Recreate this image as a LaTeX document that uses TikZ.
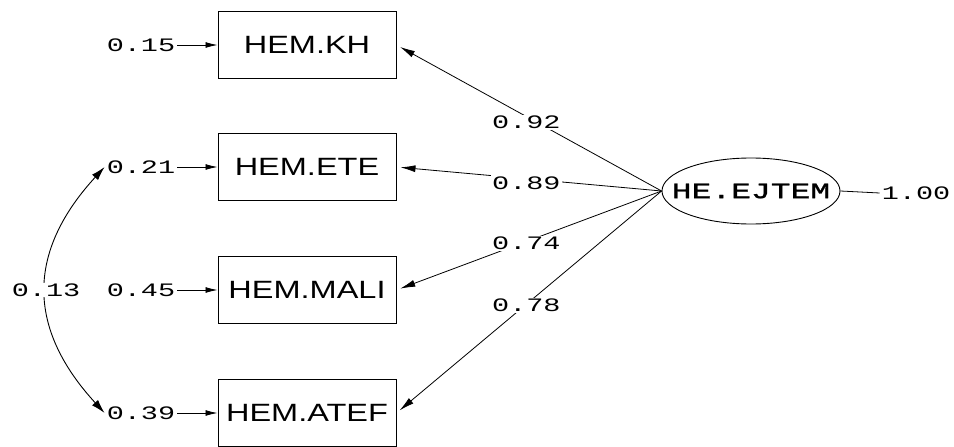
\documentclass[tikz,border=0pt]{standalone}
\usepackage{fontspec}
\usetikzlibrary{shapes.geometric,arrows.meta}
\newfontfamily\boxfont[FakeStretch=1.3]{Liberation Sans}
\newfontfamily\numfont[FakeStretch=1.5]{Liberation Mono}
\newfontfamily\latfont[FakeStretch=1.5,FakeBold=1.2]{Liberation Mono}
\begin{document}
\begin{tikzpicture}[x=1pt,y=-1pt,
  obs/.style={draw,line width=1pt,minimum width=178pt,minimum height=67pt,
    inner sep=0pt,font=\boxfont\fontsize{25}{25}\selectfont},
  lat/.style={draw,ellipse,line width=0.9pt,minimum width=178pt,minimum height=66pt,
    inner ysep=0pt,inner xsep=-25pt,font=\latfont\fontsize{22}{22}\selectfont},
  num/.style={inner sep=2pt,font=\numfont\fontsize{19}{19}\selectfont},
  lbl/.style={num,fill=white,inner sep=1pt},
  conn/.style={line width=0.8pt,-{Latex[length=15pt,width=7pt]},shorten >=4pt},
  err/.style={line width=0.9pt,-{Latex[length=12pt,width=6pt]}},
  cov/.style={line width=0.9pt,{Latex[length=14pt,width=8pt]}-{Latex[length=14pt,width=8pt]}}]
\useasboundingbox[fill=white] (0,0) rectangle (954,447);

% observed indicators
\node[obs] (kh)   at (307,45)  {HEM.KH};
\node[obs] (ete)  at (307,167) {HEM.ETE};
\node[obs] (mali) at (307,290) {HEM.MALI};
\node[obs] (atef) at (307,413) {HEM.ATEF};

% latent factor
\node[lat] (f) at (751,191) {HE.EJTEM};
\node[num] (fv) at (916,193) {1.00};
\draw[line width=0.8pt] (f.east) -- (fv.west);

% error variances
\node[num] (e1) at (141,45)  {0.15};
\node[num] (e2) at (141,167) {0.21};
\node[num] (e3) at (141,290) {0.45};
\node[num] (e4) at (141,413) {0.39};
\draw[err] (e1.east) -- (kh.west);
\draw[err] (e2.east) -- (ete.west);
\draw[err] (e3.east) -- (mali.west);
\draw[err] (e4.east) -- (atef.west);

% loadings
\draw[conn] (f.west) -- node[lbl,pos=0.51,yshift=-6pt] {0.92} (kh.east);
\draw[conn] (f.west) -- node[lbl,pos=0.51,yshift=-4pt] {0.89} (ete.east);
\draw[conn] (f.west) -- node[lbl,pos=0.51,yshift=-2pt] {0.74} (mali.east);
\draw[conn] (f.west) -- node[lbl,pos=0.51,yshift=-1pt] {0.78} (atef.east);

% error covariance
\draw[cov] (e2.west) .. controls +(-78,85) and +(-78,-85) .. node[lbl,pos=0.5] {0.13} (e4.west);
\end{tikzpicture}
\end{document}
